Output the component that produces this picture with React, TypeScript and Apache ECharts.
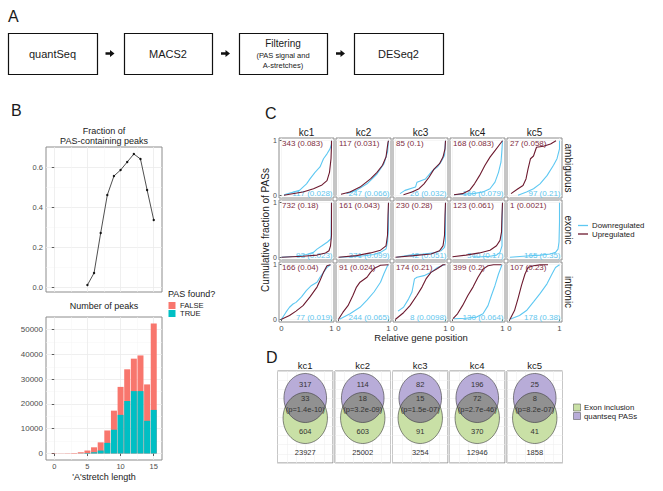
import React, { useEffect, useRef } from 'react';
import * as echarts from 'echarts';

const FONT = '"Liberation Sans", Arial, Helvetica, sans-serif';
const INK = '#1a1a1a';
const TICK_GREY = '#4d4d4d';
const UP = '#6d1a2f';
const DOWN = '#5ec8f2';
const UP_TEXT = '#7e2c40';
const DOWN_TEXT = '#62c6ee';
const FALSE_COL = '#F8766D';
const TRUE_COL = '#00BFC4';
const PURPLE = '#b8acd8';
const GREEN = '#c9e0a6';
const LENS = '#919191';

// ---------- Panel A ----------
const pipelineSteps = ['quantSeq', 'MACS2', 'Filtering', 'DESeq2'];
const filteringDetail = ['(PAS signal and', 'A-stretches)'];

// ---------- Panel B ----------
const stretchLength = [0, 1, 2, 3, 4, 5, 6, 7, 8, 9, 10, 11, 12, 13, 14, 15];
const peaksTrue = [0, 0, 0, 10, 50, 200, 500, 1200, 4300, 9600, 15600, 21200, 25200, 25200, 13200, 17600];
const peaksFalse = [100, 80, 120, 200, 450, 1000, 2000, 3300, 5000, 7700, 11300, 12800, 13100, 14400, 14700, 34900];
const fractionLength = [5, 6, 7, 8, 9, 10, 11, 12, 13, 14, 15];
const fractionPAS = [0.01, 0.07, 0.27, 0.46, 0.555, 0.585, 0.625, 0.665, 0.64, 0.485, 0.335];
const fracTicks = [0, 0.2, 0.4, 0.6];
const fracMinor = [0.1, 0.3, 0.5];
const peakTicks = [0, 10000, 20000, 30000, 40000, 50000];
const peakMinor = [5000, 15000, 25000, 35000, 45000];
const lengthTicks = [0, 5, 10, 15];
const lengthMinor = [2.5, 7.5, 12.5];

// ---------- Panel C ----------
const clusters = ['kc1', 'kc2', 'kc3', 'kc4', 'kc5'];
const regions = ['ambiguous', 'exonic', 'intronic'];

const upAmbiguous = [
  [[0.05, 0], [0.16, 0.02], [0.43, 0.06], [0.64, 0.12], [0.81, 0.19], [0.91, 0.27], [0.96, 0.42], [0.99, 0.67], [1.0, 0.91], [1.0, 1.0]],
  [[0.05, 0.02], [0.23, 0.06], [0.43, 0.15], [0.64, 0.3], [0.77, 0.42], [0.88, 0.55], [0.95, 0.7], [0.99, 0.97], [1.0, 1.0]],
  [[0.16, 0.01], [0.33, 0.06], [0.47, 0.12], [0.57, 0.21], [0.67, 0.33], [0.77, 0.48], [0.88, 0.58], [0.95, 0.7], [0.99, 0.85], [1.0, 1.0]],
  [[0.03, 0.01], [0.2, 0.03], [0.34, 0.09], [0.44, 0.21], [0.54, 0.36], [0.65, 0.55], [0.75, 0.7], [0.85, 0.82], [0.95, 0.94], [1.0, 1.0]],
  [[0.03, 0.03], [0.17, 0.12], [0.27, 0.18], [0.33, 0.3], [0.37, 0.48], [0.42, 0.67], [0.48, 0.72], [0.54, 0.88], [0.68, 0.9], [0.82, 0.94], [0.93, 1.0]],
];
const downAmbiguous = [
  [[0.05, 0.01], [0.36, 0.09], [0.5, 0.21], [0.57, 0.3], [0.67, 0.42], [0.77, 0.52], [0.84, 0.67], [0.91, 0.76], [0.97, 0.85], [1.0, 0.94], [1.0, 1.0]],
  [[0.16, 0.03], [0.36, 0.09], [0.57, 0.21], [0.77, 0.39], [0.91, 0.58], [0.98, 0.79], [1.0, 1.0]],
  [[0.09, 0.03], [0.19, 0.09], [0.4, 0.15], [0.43, 0.24], [0.6, 0.3], [0.74, 0.45], [0.84, 0.52], [0.91, 0.61], [0.98, 0.73], [1.0, 1.0]],
  [[0.03, 0.01], [0.41, 0.03], [0.61, 0.06], [0.75, 0.12], [0.85, 0.24], [0.92, 0.42], [0.97, 0.61], [0.99, 0.85], [1.0, 1.0]],
  [[0.17, 0], [0.34, 0.06], [0.48, 0.12], [0.61, 0.21], [0.75, 0.36], [0.88, 0.55], [0.95, 0.67], [1.0, 0.85], [1.0, 1.0]],
];
const upExonic = [
  [[0, 0], [0.43, 0.02], [0.71, 0.04], [0.88, 0.08], [0.95, 0.12], [0.98, 0.21], [1.0, 0.4], [1.0, 0.77], [1.0, 1.0]],
  [[0, 0], [0.36, 0.03], [0.64, 0.08], [0.84, 0.13], [0.95, 0.21], [0.98, 0.4], [0.99, 0.77], [1.0, 1.0]],
  [[0, 0], [0.36, 0.03], [0.71, 0.06], [0.88, 0.12], [0.95, 0.21], [0.98, 0.4], [0.99, 0.77], [1.0, 1.0]],
  [[0, 0.01], [0.27, 0.04], [0.54, 0.08], [0.75, 0.13], [0.88, 0.21], [0.95, 0.31], [0.98, 0.46], [0.99, 0.77], [1.0, 1.0]],
  [],
];
const downExonic = [
  [[0, 0], [0.29, 0.02], [0.5, 0.05], [0.64, 0.09], [0.71, 0.15], [0.81, 0.21], [0.92, 0.28], [0.99, 0.34], [1.0, 1.0]],
  [[0.02, 0], [0.43, 0.02], [0.71, 0.05], [0.84, 0.09], [0.95, 0.15], [0.98, 0.28], [1.0, 0.52], [1.0, 1.0]],
  [[0.02, 0], [0.29, 0.04], [0.57, 0.06], [0.77, 0.08], [0.91, 0.12], [0.98, 0.18], [1.0, 0.28], [1.0, 1.0]],
  [[0.41, 0], [0.75, 0.02], [0.88, 0.04], [0.95, 0.09], [0.99, 0.21], [0.99, 0.52], [1.0, 1.0]],
  [[0.01, 0], [0.27, 0.02], [0.61, 0.04], [0.82, 0.06], [0.92, 0.09], [0.97, 0.15], [0.99, 0.28], [1.0, 0.64], [1.0, 1.0]],
];
const upIntronic = [
  [[0, 0], [0.16, 0.07], [0.29, 0.15], [0.43, 0.25], [0.57, 0.41], [0.71, 0.59], [0.77, 0.71], [0.84, 0.86], [0.91, 0.98], [0.98, 1.0]],
  [[0, 0], [0.09, 0.13], [0.19, 0.25], [0.29, 0.44], [0.36, 0.59], [0.43, 0.68], [0.57, 0.77], [0.64, 0.86], [0.71, 0.93], [0.84, 0.99], [1.0, 1.0]],
  [[0, 0], [0.16, 0.12], [0.29, 0.25], [0.43, 0.44], [0.53, 0.59], [0.61, 0.74], [0.71, 0.86], [0.84, 0.93], [0.95, 1.0], [1.0, 1.0]],
  [[0.01, 0.01], [0.1, 0.1], [0.2, 0.25], [0.31, 0.44], [0.41, 0.59], [0.51, 0.77], [0.61, 0.92], [0.71, 0.98], [0.82, 1.0], [0.98, 1.0]],
  [[0.01, 0], [0.1, 0.16], [0.17, 0.38], [0.24, 0.62], [0.31, 0.83], [0.37, 0.95], [0.48, 0.98], [0.61, 1.0], [0.77, 1.0]],
];
const downIntronic = [
  [[0, 0], [0.09, 0.13], [0.16, 0.22], [0.23, 0.28], [0.29, 0.31], [0.4, 0.41], [0.5, 0.53], [0.6, 0.62], [0.71, 0.68], [0.77, 0.77], [0.84, 0.86], [0.91, 0.95], [0.98, 1.0]],
  [[0.02, 0], [0.23, 0.1], [0.43, 0.22], [0.57, 0.35], [0.71, 0.5], [0.84, 0.68], [0.91, 0.84], [0.98, 0.98], [1.0, 1.0]],
  [[0.05, 0.15], [0.16, 0.22], [0.26, 0.37], [0.33, 0.5], [0.38, 0.74], [0.43, 0.77], [0.57, 0.8], [0.71, 0.86], [0.84, 0.95], [0.98, 1.0]],
  [[0.03, 0.01], [0.27, 0.02], [0.48, 0.04], [0.61, 0.1], [0.71, 0.25], [0.78, 0.44], [0.85, 0.62], [0.92, 0.83], [0.99, 1.0]],
  [[0.01, 0], [0.2, 0.07], [0.34, 0.16], [0.48, 0.32], [0.61, 0.47], [0.75, 0.65], [0.85, 0.83], [0.92, 0.95], [1.0, 1.0]],
];
const upLabelAmbiguous = ['343 (0.083)', '117 (0.031)', '85 (0.1)', '168 (0.083)', '27 (0.058)'];
const upLabelExonic = ['732 (0.18)', '161 (0.043)', '230 (0.28)', '123 (0.061)', '1 (0.0021)'];
const upLabelIntronic = ['166 (0.04)', '91 (0.024)', '174 (0.21)', '399 (0.2)', '107 (0.23)'];
const downLabelAmbiguous = ['117 (0.028)', '247 (0.066)', '26 (0.032)', '160 (0.079)', '97 (0.21)'];
const downLabelExonic = ['93 (0.023)', '371 (0.099)', '42 (0.051)', '340 (0.17)', '165 (0.35)'];
const downLabelIntronic = ['77 (0.019)', '244 (0.065)', '8 (0.0098)', '130 (0.064)', '178 (0.38)'];
const unitTicks = [0, 1];

// ---------- Panel D ----------
const quantseqOnly = [317, 114, 82, 196, 25];
const overlapCount = [33, 18, 15, 72, 8];
const overlapP = ['1.4e-10', '3.2e-09', '1.5e-07', '2.7e-46', '8.2e-07'];
const exonOnly = [604, 603, 91, 370, 41];
const neitherCount = [23927, 25002, 3254, 12946, 1858];
const vennLegend = ['Exon inclusion', 'quantseq PASs'];

// ---------- layout ----------
const C_LEFT = [279, 336, 393, 450, 507];
const C_TOP = [138, 200, 262];
const C_W = 55;
const C_H = 60;
const D_LEFT = [277.5, 335, 392.5, 449.5, 507];
const D_TOP = 371;
const D_W = 55.5;
const D_H = 92;

function txt(x: number, y: number, text: string, size: number, o: any = {}) {
  return {
    type: 'text',
    x,
    y,
    rotation: o.rotation || 0,
    z: o.z ?? 20,
    silent: true,
    style: {
      text,
      fontSize: size,
      fontFamily: FONT,
      fill: o.color || INK,
      align: o.align || 'center',
      textAlign: o.align || 'center',
      verticalAlign: 'middle',
      textVerticalAlign: 'middle',
    },
  };
}

function lensPoints(cx: number, g: any, p: any) {
  const up: number[][] = [];
  const low: number[][] = [];
  const R = Math.min(g.rx, p.rx);
  const N = 120;
  for (let i = 0; i <= N; i++) {
    const dx = -R + (2 * R * i) / N;
    const gt = g.cy - g.ry * Math.sqrt(Math.max(0, 1 - (dx / g.rx) ** 2));
    const pb = p.cy + p.ry * Math.sqrt(Math.max(0, 1 - (dx / p.rx) ** 2));
    if (gt <= pb) {
      up.push([cx + dx, gt]);
      low.push([cx + dx, pb]);
    }
  }
  return up.concat(low.reverse());
}

function buildOption() {
  const grid: any[] = [];
  const xAxis: any[] = [];
  const yAxis: any[] = [];
  const series: any[] = [];
  const graphic: any[] = [];

  const tickLabel = { color: TICK_GREY, fontSize: 7.5, fontFamily: FONT };
  const tickStyle = { lineStyle: { color: '#333', width: 0.8 }, length: 2.5 };
  const major = { color: '#ebebeb', width: 0.8 };
  const minor = { color: '#f5f5f5', width: 0.5 };

  // ---- B: fraction line and stacked bars ----
  grid.push({ left: 46, top: 147, width: 116, height: 145, show: true, borderColor: '#8c8c8c', borderWidth: 1, outerBoundsMode: 'none' });
  grid.push({ left: 46, top: 317, width: 116, height: 143, show: true, borderColor: '#8c8c8c', borderWidth: 1, outerBoundsMode: 'none' });
  [0, 1].forEach((g) => {
    xAxis.push({
      gridIndex: g, type: 'value', min: -1.245, max: 16.245,
      axisLine: { show: false },
      axisTick: { show: g === 1, ...tickStyle, customValues: lengthTicks },
      axisLabel: { show: g === 1, ...tickLabel, fontSize: 7.5, margin: 2, customValues: lengthTicks },
      splitLine: { show: true, lineStyle: major },
    });
    xAxis.push({
      gridIndex: g, type: 'value', min: -1.245, max: 16.245, position: 'bottom',
      axisLine: { show: false },
      axisTick: { show: false, customValues: lengthMinor },
      axisLabel: { show: false, customValues: lengthMinor },
      splitLine: { show: true, lineStyle: minor },
    });
  });
  yAxis.push({
    gridIndex: 0, type: 'value', min: -0.025, max: 0.7,
    axisLine: { show: false },
    axisTick: { show: true, ...tickStyle, customValues: fracTicks },
    axisLabel: { ...tickLabel, margin: 3, customValues: fracTicks, formatter: (v: number) => v.toFixed(1) },
    splitLine: { show: true, lineStyle: major },
  });
  yAxis.push({
    gridIndex: 0, type: 'value', min: -0.025, max: 0.7, position: 'left',
    axisLine: { show: false },
    axisTick: { show: false, customValues: fracMinor },
    axisLabel: { show: false, customValues: fracMinor },
    splitLine: { show: true, lineStyle: minor },
  });
  yAxis.push({
    gridIndex: 1, type: 'value', min: -2625, max: 55125,
    axisLine: { show: false },
    axisTick: { show: true, ...tickStyle, customValues: peakTicks },
    axisLabel: { ...tickLabel, fontSize: 8, margin: 3, customValues: peakTicks, formatter: (v: number) => String(v) },
    splitLine: { show: true, lineStyle: major },
  });
  yAxis.push({
    gridIndex: 1, type: 'value', min: -2625, max: 55125, position: 'left',
    axisLine: { show: false },
    axisTick: { show: false, customValues: peakMinor },
    axisLabel: { show: false, customValues: peakMinor },
    splitLine: { show: true, lineStyle: minor },
  });
  series.push({
    type: 'line', xAxisIndex: 0, yAxisIndex: 0, silent: true,
    data: fractionLength.map((x, i) => [x, fractionPAS[i]]),
    symbol: 'circle', symbolSize: 2.4, showSymbol: true,
    itemStyle: { color: '#111' }, lineStyle: { color: '#222', width: 0.8 }, z: 5,
  });
  // FALSE sits on top of TRUE: draw the full column height in FALSE colour, TRUE part over it.
  series.push({
    type: 'bar', name: 'FALSE', xAxisIndex: 2, yAxisIndex: 2, silent: true,
    data: stretchLength.map((x, i) => [x, peaksTrue[i] + peaksFalse[i]]), barWidth: 6, barGap: '-100%',
    itemStyle: { color: FALSE_COL }, z: 2,
  });
  series.push({
    type: 'bar', name: 'TRUE', xAxisIndex: 2, yAxisIndex: 2, silent: true,
    data: stretchLength.map((x, i) => [x, peaksTrue[i]]), barWidth: 6, barGap: '-100%',
    itemStyle: { color: TRUE_COL }, z: 3,
  });

  // ---- C: facet grid ----
  const upRows = [upAmbiguous, upExonic, upIntronic];
  const downRows = [downAmbiguous, downExonic, downIntronic];
  const upLabs = [upLabelAmbiguous, upLabelExonic, upLabelIntronic];
  const downLabs = [downLabelAmbiguous, downLabelExonic, downLabelIntronic];
  for (let r = 0; r < 3; r++) {
    for (let c = 0; c < 5; c++) {
      const gi = grid.length;
      grid.push({ left: C_LEFT[c], top: C_TOP[r], width: C_W, height: C_H, show: true, borderColor: '#8c8c8c', borderWidth: 1, outerBoundsMode: 'none' });
      const xi = xAxis.length;
      xAxis.push({
        gridIndex: gi, type: 'value', min: -0.05, max: 1.05,
        axisLine: { show: false },
        axisTick: { show: r === 2, ...tickStyle, length: 2, customValues: unitTicks },
        axisLabel: { show: r === 2, ...tickLabel, fontSize: 7.8, margin: 2, customValues: unitTicks },
        splitLine: { show: true, lineStyle: { color: '#f0f0f0', width: 0.6 } },
      });
      const yi = yAxis.length;
      yAxis.push({
        gridIndex: gi, type: 'value', min: -0.05, max: 1.05,
        axisLine: { show: false },
        axisTick: { show: c === 0, ...tickStyle, length: 2, customValues: unitTicks },
        axisLabel: { show: c === 0, ...tickLabel, fontSize: 7, margin: 2, customValues: unitTicks },
        splitLine: { show: true, lineStyle: { color: '#f0f0f0', width: 0.6 } },
      });
      series.push({
        type: 'line', name: 'Downregulated', xAxisIndex: xi, yAxisIndex: yi, silent: true,
        data: downRows[r][c], symbol: 'none', showSymbol: false,
        lineStyle: { color: DOWN, width: 1.1 }, itemStyle: { color: DOWN }, z: 4,
      });
      series.push({
        type: 'line', name: 'Upregulated', xAxisIndex: xi, yAxisIndex: yi, silent: true,
        data: upRows[r][c], symbol: 'none', showSymbol: false,
        lineStyle: { color: UP, width: 1.1 }, itemStyle: { color: UP }, z: 5,
      });
      graphic.push(txt(C_LEFT[c] + 3, C_TOP[r] + 5.5, upLabs[r][c], 8, { align: 'left', color: UP_TEXT, z: 1 }));
      graphic.push(txt(C_LEFT[c] + C_W - 1.5, C_TOP[r] + C_H - 4.5, downLabs[r][c], 8, { align: 'right', color: DOWN_TEXT, z: 1 }));
    }
  }

  // ---- D: venn boxes ----
  for (let c = 0; c < 5; c++) {
    const gi = grid.length;
    grid.push({ left: D_LEFT[c], top: D_TOP, width: D_W, height: D_H, show: true, borderColor: '#8c8c8c', borderWidth: 1, outerBoundsMode: 'none' });
    xAxis.push({
      gridIndex: gi, type: 'value', min: 0, max: 6, interval: 1,
      axisLine: { show: false }, axisTick: { show: false }, axisLabel: { show: false },
      splitLine: { show: true, lineStyle: { color: '#f0f0f0', width: 0.6 } },
    });
    yAxis.push({
      gridIndex: gi, type: 'value', min: 0, max: 10, interval: 1,
      axisLine: { show: false }, axisTick: { show: false }, axisLabel: { show: false },
      splitLine: { show: true, lineStyle: { color: '#f0f0f0', width: 0.6 } },
    });
    const cx = D_LEFT[c] + D_W / 2;
    const g = { cy: 418, rx: 22.2, ry: 25.5 };
    const p = { cy: 398, rx: 21.3, ry: 24.5 };
    graphic.push({ type: 'ellipse', z: 10, silent: true, shape: { cx, cy: g.cy, rx: g.rx, ry: g.ry }, style: { fill: GREEN } });
    graphic.push({ type: 'ellipse', z: 11, silent: true, shape: { cx, cy: p.cy, rx: p.rx, ry: p.ry }, style: { fill: PURPLE } });
    graphic.push({ type: 'polygon', z: 12, silent: true, shape: { points: lensPoints(cx, g, p) }, style: { fill: LENS } });
    graphic.push({ type: 'ellipse', z: 13, silent: true, shape: { cx, cy: g.cy, rx: g.rx, ry: g.ry }, style: { fill: 'none', stroke: '#3a3a3a', lineWidth: 0.6 } });
    graphic.push({ type: 'ellipse', z: 13, silent: true, shape: { cx, cy: p.cy, rx: p.rx, ry: p.ry }, style: { fill: 'none', stroke: '#3a3a3a', lineWidth: 0.6 } });
    graphic.push(txt(cx, D_TOP - 6, clusters[c], 9.5));
    graphic.push(txt(cx, 384, String(quantseqOnly[c]), 7.5, { color: '#333' }));
    graphic.push(txt(cx, 398, String(overlapCount[c]), 7.5, { color: '#333' }));
    graphic.push(txt(cx, 409, '(p=' + overlapP[c] + ')', 7.5, { color: '#333' }));
    graphic.push(txt(cx, 431, String(exonOnly[c]), 7.5, { color: '#333' }));
    graphic.push(txt(cx, 452, String(neitherCount[c]), 7.5, { color: '#333' }));
  }

  // ---- Panel A ----
  graphic.push(txt(8, 16, 'A', 16, { align: 'left' }));
  const boxes = [[8, 97], [124, 212], [239, 327], [354, 443]];
  boxes.forEach(([x0, x1], i) => {
    graphic.push({ type: 'rect', z: 5, silent: true, shape: { x: x0 + 0.5, y: 33.5, width: x1 - x0, height: 41 }, style: { fill: '#fff', stroke: '#111', lineWidth: 1.2 } });
    const cx = (x0 + x1) / 2;
    if (i === 2) {
      graphic.push(txt(cx, 43, pipelineSteps[i], 10));
      graphic.push(txt(cx, 55, filteringDetail[0], 7.5));
      graphic.push(txt(cx, 65.5, filteringDetail[1], 7.5));
    } else {
      graphic.push(txt(cx, 53.5, pipelineSteps[i], 11));
    }
  });
  [110, 225.5, 340.5].forEach((ax) => {
    const ay = 53.5;
    graphic.push({
      type: 'polygon', z: 5, silent: true,
      shape: { points: [[ax - 4.5, ay - 1.2], [ax, ay - 1.2], [ax, ay - 3.6], [ax + 4.5, ay], [ax, ay + 3.6], [ax, ay + 1.2], [ax - 4.5, ay + 1.2]] },
      style: { fill: '#111' },
    });
  });

  // ---- Panel B labels ----
  graphic.push(txt(11, 110, 'B', 16, { align: 'left' }));
  graphic.push(txt(104, 131, 'Fraction of', 9));
  graphic.push(txt(104, 141, 'PAS-containing peaks', 9));
  graphic.push(txt(104, 306, 'Number of peaks', 9));
  graphic.push(txt(104, 476.5, "'A'stretch length", 9));
  graphic.push(txt(168, 294, 'PAS found?', 9, { align: 'left' }));
  [['FALSE', FALSE_COL, 302], ['TRUE', TRUE_COL, 310]].forEach(([name, col, y]: any) => {
    graphic.push({ type: 'rect', z: 20, silent: true, shape: { x: 168.5, y, width: 7, height: 7 }, style: { fill: col } });
    graphic.push(txt(180, y + 3.6, name, 7.6, { align: 'left' }));
  });

  // ---- Panel C labels ----
  graphic.push(txt(265, 113, 'C', 16, { align: 'left' }));
  clusters.forEach((k, c) => graphic.push(txt(C_LEFT[c] + C_W / 2, 132, k, 10)));
  regions.forEach((reg, r) => graphic.push(txt(568, C_TOP[r] + C_H / 2, reg, 10, { rotation: -Math.PI / 2 })));
  graphic.push(txt(265, 230, 'Cumulative fraction of PASs', 10, { rotation: Math.PI / 2 }));
  graphic.push(txt(421, 337, 'Relative gene position', 9.5));
  [['Downregulated', DOWN, 225.5], ['Upregulated', UP, 234]].forEach(([name, col, y]: any) => {
    graphic.push({ type: 'line', z: 20, silent: true, shape: { x1: 578, y1: y, x2: 588, y2: y }, style: { stroke: col, lineWidth: 1.3 } });
    graphic.push(txt(592, y, name, 7.8, { align: 'left' }));
  });

  // ---- Panel D labels ----
  graphic.push(txt(266, 357, 'D', 16, { align: 'left' }));
  [[GREEN, 404], [PURPLE, 412.5]].forEach(([col, y]: any, i) => {
    graphic.push({ type: 'rect', z: 20, silent: true, shape: { x: 573.5, y, width: 7, height: 7 }, style: { fill: col, stroke: '#444', lineWidth: 0.5 } });
    graphic.push(txt(584, y + 3.6, vennLegend[i], 7.8, { align: 'left' }));
  });

  return {
    animation: false,
    backgroundColor: '#ffffff',
    textStyle: { fontFamily: FONT },
    grid,
    xAxis,
    yAxis,
    series,
    graphic: { elements: graphic },
  };
}

export default function App() {
  const ref = useRef<HTMLDivElement>(null);
  useEffect(() => {
    document.body.style.margin = '0';
    const chart = echarts.init(ref.current!, undefined, { renderer: 'svg' });
    chart.setOption(buildOption() as any);
    return () => chart.dispose();
  }, []);
  return <div ref={ref} style={{ width: 663, height: 491 }} />;
}
